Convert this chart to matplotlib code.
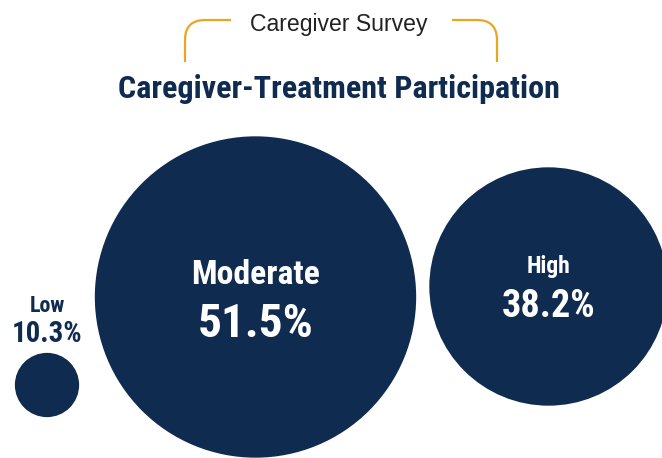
import matplotlib.pyplot as plt
from matplotlib.patches import Circle, PathPatch
from matplotlib.path import Path

# participation levels and their shares (%)
levels = ["Low", "Moderate", "High"]
shares = [10.3, 51.5, 38.2]

# layout in pixel units (y grows downward)
centers_x = [47, 255.5, 548.5]
centers_y = [385, 297, 286.5]
px_per_pct = 3.12
name_baselines = [312, 284, 273]
value_baselines = [342, 337, 317]
name_sizes = [15.8, 24.3, 16.9]
value_sizes = [20.8, 34, 27.5]

navy = "#0F2B50"
gold = "#E9A623"
narrow = ["Roboto Condensed", "DejaVu Sans"]

W, H = 662, 458
fig = plt.figure(figsize=(W / 100, H / 100), dpi=100)
ax = fig.add_axes([0, 0, 1, 1])
ax.set_xlim(0, W)
ax.set_ylim(H, 0)
ax.set_aspect("equal")
ax.axis("off")

# bubbles: radius scales with the share
for i in range(len(levels)):
    r = shares[i] * px_per_pct
    ax.add_patch(Circle((centers_x[i], centers_y[i]), r, color=navy, lw=0))
    # the small bubble gets its label above, in navy
    inside = r > 60
    col = "white" if inside else navy
    ax.text(centers_x[i], name_baselines[i], levels[i], ha="center", va="baseline",
            fontsize=name_sizes[i], fontweight="bold", color=col, family=narrow)
    ax.text(centers_x[i], value_baselines[i], "%.1f%%" % shares[i], ha="center", va="baseline",
            fontsize=value_sizes[i], fontweight="bold", color=col, family=narrow)

# header with gold bracket
ax.text(338.5, 31, "Caregiver Survey", ha="center", va="baseline", fontsize=16.6,
        color="#222222", family=["Liberation Sans", "DejaVu Sans"])
ax.text(339, 98, "Caregiver-Treatment Participation", ha="center", va="baseline",
        fontsize=23, fontweight="bold", color=navy, family=narrow)

codes = [Path.MOVETO, Path.LINETO, Path.CURVE3, Path.CURVE3, Path.LINETO]
left = Path([(231, 20), (205, 20), (185, 20), (185, 40), (185, 62)], codes)
right = Path([(452, 20), (477, 20), (497, 20), (497, 40), (497, 62)], codes)
for p in (left, right):
    ax.add_patch(PathPatch(p, fill=False, edgecolor=gold, lw=1.6, capstyle="butt"))

fig.savefig("out.png", dpi=100, facecolor="white")
